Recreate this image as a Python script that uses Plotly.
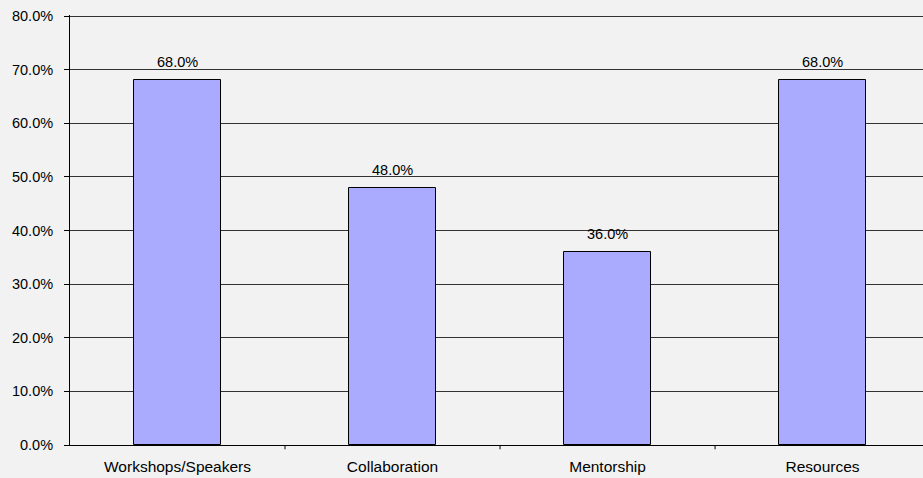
import plotly.graph_objects as go

categories = ["Workshops/Speakers", "Collaboration", "Mentorship", "Resources"]
values = [68.0, 48.0, 36.0, 68.0]
labels = [f"{v:.1f}%" for v in values]
y_ticks = [0, 10, 20, 30, 40, 50, 60, 70, 80]
y_tick_labels = [f"{t:.1f}%" for t in y_ticks]

FONT = "Liberation Sans, Arial, sans-serif"
FS = 14.5

fig = go.Figure()
fig.add_trace(go.Bar(
    x=list(range(len(categories))),
    y=values,
    width=0.405,
    marker=dict(color="#aaaaff", line=dict(color="#000000", width=1)),
    hoverinfo="skip",
))

for i, (v, lab) in enumerate(zip(values, labels)):
    fig.add_annotation(x=i, y=v, text=lab, showarrow=False, xref="x", yref="y",
                       yanchor="bottom", yshift=8,
                       font=dict(family=FONT, size=FS, color="#000000"))

fig.update_layout(
    width=923, height=478,
    margin=dict(l=70, r=0, t=15, b=33),
    paper_bgcolor="#f2f2f2",
    plot_bgcolor="#f2f2f2",
    showlegend=False,
    bargap=0,
    font=dict(family=FONT, size=FS, color="#000000"),
    xaxis=dict(
        range=[-0.5, 3.467],
        tickmode="array",
        tickvals=list(range(len(categories))),
        ticktext=categories,
        tickfont=dict(family=FONT, size=15.5, color="#000000"),
        showgrid=False,
        showline=True, linecolor="#000000", linewidth=1,
        ticks="",
        ticklabelstandoff=7,
        zeroline=False,
    ),
    yaxis=dict(
        range=[0, 80.2],
        tickmode="array",
        tickvals=y_ticks,
        ticktext=y_tick_labels,
        showgrid=True, gridcolor="#333333", gridwidth=1,
        showline=True, linecolor="#000000", linewidth=1,
        ticks="outside", ticklen=5, tickcolor="#000000",
        ticklabelstandoff=8,
        zeroline=False,
    ),
)

# category separator ticks on the x axis
for b in [0.5, 1.5, 2.5]:
    fig.add_shape(type="line", xref="x", yref="paper", x0=b, x1=b, y0=0, y1=-0.01,
                  line=dict(color="#000000", width=1))

fig.write_html("out.html", config={"displayModeBar": False},
               post_script="document.body.style.margin='0';")
